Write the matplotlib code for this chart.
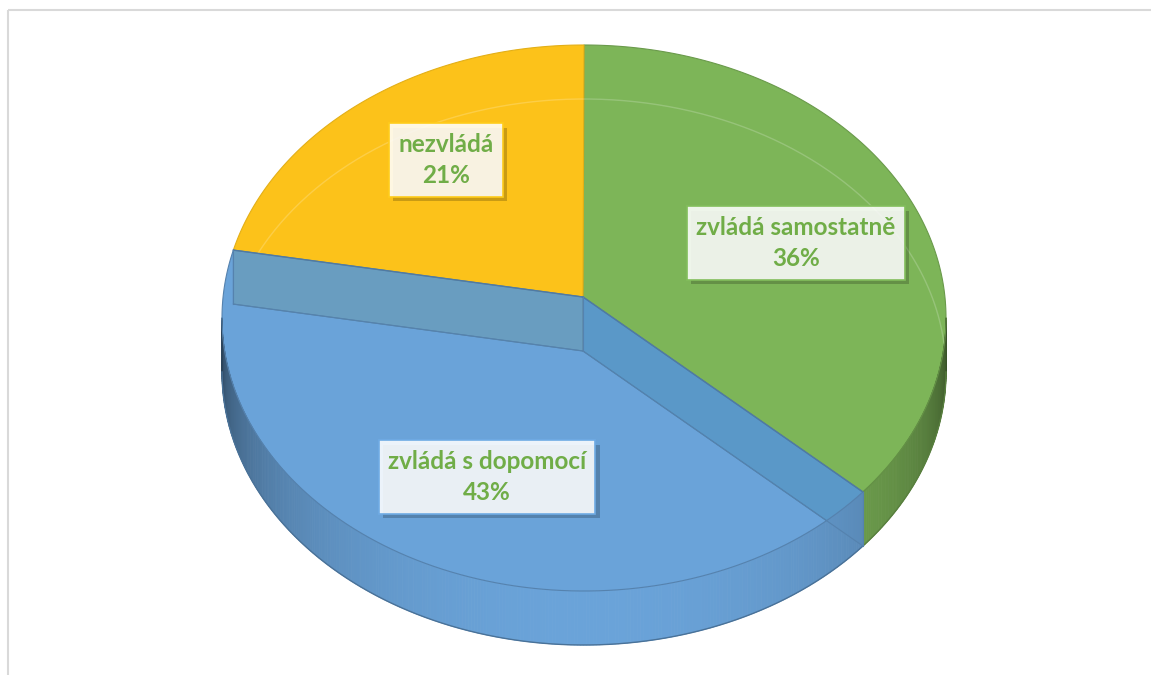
import numpy as np
import matplotlib
matplotlib.use("Agg")
import matplotlib.pyplot as plt
import matplotlib.patheffects as pe
from matplotlib.patches import Polygon, Rectangle
from matplotlib.collections import PolyCollection

# data
labels = ["zvládá samostatně", "zvládá s dopomocí", "nezvládá"]
values = [36, 43, 21]
colors = [(125, 181, 88), (106, 163, 217), (252, 194, 26)]
label_pos = [(796, 243), (487, 477), (446, 160)]

# geometry of the 3d pie (pixel space)
cx, cy, a, b = 584, 318, 362, 273
apex = (583, 297)
depth = 54

plt.rcParams['font.family'] = ['Lato', 'DejaVu Sans']

fig = plt.figure(figsize=(11.51, 6.75), dpi=100)
ax = fig.add_axes([0, 0, 1, 1])
ax.set_xlim(0, 1151)
ax.set_ylim(675, 0)
ax.axis('off')


def rim(theta_deg, dy=0):
    t = np.radians(theta_deg)
    return np.column_stack([cx + a * np.sin(t), cy - b * np.cos(t) + dy])


def c(rgb, f=1.0, alpha=1.0):
    return (min(rgb[0] * f / 255, 1), min(rgb[1] * f / 255, 1), min(rgb[2] * f / 255, 1), alpha)


total = sum(values)
bounds = np.concatenate([[0], np.cumsum(values) / total * 360])
slices = [(bounds[i], bounds[i + 1]) for i in range(len(values))]

# frame
ax.add_patch(Rectangle((8.5, 9.5), 1160, 700, fill=False, ec='#d9d9d9', lw=1.5))

green, blue, yellow = colors
(g0, g1), (b0, b1), (y0, y1) = slices


def top_face(t0, t1):
    th = np.linspace(t0, t1, 200)
    return np.vstack([[apex], rim(th)])


# opaque top faces
ax.add_patch(Polygon(top_face(g0, g1), closed=True, fc=c(green), ec=c(green, 0.85), lw=0.8, zorder=2))
ax.add_patch(Polygon(top_face(y0, y1), closed=True, fc=c(yellow), ec=c(yellow, 0.9), lw=0.8, zorder=2))

# faint back rim of the bottom face showing through
th = np.linspace(270, 450, 300)
br = rim(th, depth)
ax.plot(br[:, 0], br[:, 1], color='white', alpha=0.2, lw=1.0, zorder=3)

# transparent blue top face
ax.add_patch(Polygon(top_face(b0, b1), closed=True, fc=c(blue), ec='none', zorder=4))

# radial walls seen through the blue slice
for ang, col in [(b0, (90, 152, 200)), (b1, (105, 157, 192))]:
    p = rim([ang])[0]
    quad = [apex, p, (p[0], p[1] + depth), (apex[0], apex[1] + depth)]
    ax.add_patch(Polygon(quad, closed=True, fc=c(col), ec=c(col, 0.85), lw=0.8, zorder=5))

# outer side walls, front half only
for (t0, t1), col in zip(slices, colors):
    lo, hi = max(t0, 90), min(t1, 270)
    if lo >= hi:
        continue
    th = np.linspace(lo, hi, int((hi - lo) * 2) + 2)
    top = rim(th)
    bot = rim(th, depth)
    quads, fcs = [], []
    for i in range(len(th) - 1):
        quads.append([top[i], top[i + 1], bot[i + 1], bot[i]])
        m = np.radians((th[i] + th[i + 1]) / 2)
        f = 0.4 + 0.6 * max(-np.cos(m), 0) ** 0.65
        fcs.append(c(col, f))
    ax.add_collection(PolyCollection(quads, facecolors=fcs, edgecolors=fcs, lw=0.6, zorder=6))
    ax.plot(bot[:, 0], bot[:, 1], color=c(col, 0.7), lw=1.0, zorder=7)
    ax.plot(top[:, 0], top[:, 1], color=c(col, 0.8), lw=0.8, zorder=7)

# edges on the blue top face
for ang in (b0, b1):
    p = rim([ang])[0]
    ax.plot([apex[0], p[0]], [apex[1], p[1]], color=c(blue, 0.75), lw=1.0, zorder=8)
    ax.plot([apex[0], p[0]], [apex[1] + depth, p[1] + depth], color=c(blue, 0.8), lw=0.8, zorder=8)
    ax.plot([p[0], p[0]], [p[1], p[1] + depth], color=c(blue, 0.8), lw=0.8, zorder=8)
ax.plot([apex[0], apex[0]], [apex[1], apex[1] + depth], color=c(blue, 0.8), lw=0.8, zorder=8)
th = np.linspace(270, b1, 50)
lr = rim(th)
ax.plot(lr[:, 0], lr[:, 1], color=c(blue, 0.8), lw=0.8, zorder=8)

# data labels
shadow = [pe.SimplePatchShadow(offset=(3, -3), shadow_rgbFace='black', alpha=0.2), pe.Normal()]
for lab, val, col, (x, y) in zip(labels, values, colors, label_pos):
    t = ax.text(x, y, f"{lab}\n{val}%", color='#70ad47', ha='center', va='center',
                fontsize=17.5, fontweight='bold', linespacing=1.45, zorder=10,
                bbox=dict(boxstyle='square,pad=0.38', fc=(1, 1, 1, 0.88),
                          ec=c(col, 1.05), lw=1.2))
    t.get_bbox_patch().set_path_effects(shadow)

fig.savefig('out.png', dpi=100)
